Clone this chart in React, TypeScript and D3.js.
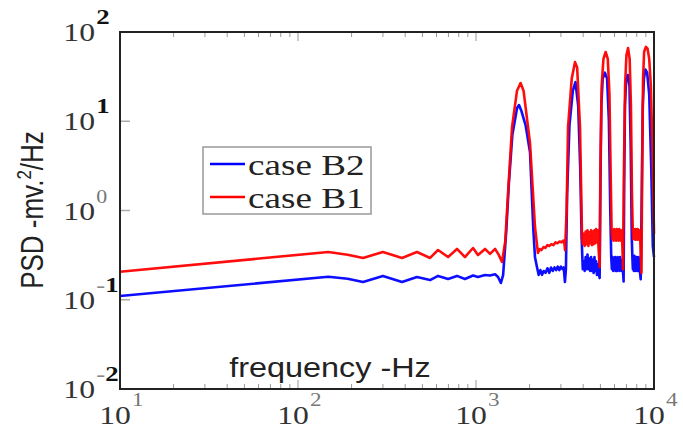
import React from 'react';
import * as d3 from 'd3';

const xTickExps = [1, 2, 3, 4];
const yTickExps = [2, 1, 0, -1, -2];
const seriesNames = ['case B2', 'case B1'];
const seriesColors = ['#0000ff', '#ff0000'];

// case B2 (blue)
const b2Freq = [10,148,190,232,300,384,466,552,612,697,782,867,962,1026,1124,1199,1280,1330,1380,1420,1480,1530,1600,1700,1744,1800,1900,2011,2100,2145,2200,
  2250,2300,2350,2400,2460,2520,2580,2640,2700,2760,2820,2880,2940,3000,3060,3110,3160,3200,3250,3350,3500,3620,3750,3850,3920,
  3980,4030,4080,4130,4180,4230,4280,4330,4380,4430,4480,4530,4580,4630,4680,4730,4780,4830,4880,4950,
  5000,5060,5150,5300,5450,5580,5680,5750,
  5800,5850,5900,5950,6000,6050,6100,6150,6200,6250,6300,6350,6400,6450,6500,6550,6600,6650,6750,
  6800,6870,6980,7120,7280,7400,7500,7560,
  7610,7660,7710,7760,7810,7860,7910,7960,8010,8060,8110,8160,8220,8280,8350,8420,
  8550,8650,8780,8950,9150,9400,9650,9850,10000];
const b2Psd = [0.11,0.181,0.172,0.158,0.185,0.158,0.18,0.166,0.185,0.171,0.185,0.171,0.187,0.18,0.189,0.187,0.193,0.18,0.154,0.189,0.6,2,7,14,15.2,13,9,4.5,0.6,0.3,0.233,
  0.19,0.215,0.19,0.21,0.2,0.225,0.2,0.23,0.21,0.23,0.215,0.235,0.215,0.235,0.22,0.23,0.158,0.22,1.5,9,22,27.5,15,3,0.5,
  0.22,0.27,0.21,0.3,0.22,0.32,0.22,0.29,0.21,0.3,0.21,0.28,0.2,0.3,0.21,0.27,0.19,0.25,0.2,0.175,
  2,15,30,35,30,10,1,0.3,
  0.22,0.3,0.21,0.28,0.22,0.3,0.21,0.29,0.21,0.3,0.22,0.28,0.21,0.3,0.22,0.28,0.21,0.25,0.16,
  2,15,30,33,25,5,0.5,0.3,
  0.22,0.3,0.21,0.31,0.22,0.3,0.21,0.3,0.22,0.29,0.21,0.3,0.22,0.28,0.2,0.17,
  2,15,30,38,35,20,3,0.4,0.3];

// case B1 (red)
const b1Freq = [10,148,190,232,300,384,466,552,612,697,782,867,962,1026,1124,1199,1280,1340,1400,1460,1514,1594,1700,1780,1850,2011,2145,2228,
  2280,2330,2400,2450,2520,2580,2650,2720,2800,2870,2950,3020,3100,3140,3164,3230,3289,3450,3600,3700,3840,3942,
  3980,4030,4080,4130,4180,4230,4280,4330,4380,4430,4480,4530,4580,4630,4680,4730,4780,4830,4880,4950,
  5000,5080,5200,5350,5500,5620,5720,5780,
  5830,5880,5930,5980,6030,6080,6130,6180,6230,6280,6330,6380,6430,6480,6530,6580,6640,6700,
  6780,6880,7000,7150,7300,7420,7520,7600,
  7650,7700,7750,7800,7850,7900,7950,8000,8050,8100,8150,8200,8260,8320,8400,8500,
  8580,8680,8800,9000,9200,9400,9600,9800,10000];
const b1Psd = [0.206,0.343,0.32,0.294,0.343,0.294,0.343,0.294,0.361,0.301,0.371,0.301,0.38,0.317,0.371,0.326,0.371,0.32,0.265,0.45,1.57,8.6,22,26.8,22,5.7,0.653,0.334,
  0.37,0.36,0.39,0.38,0.41,0.4,0.42,0.41,0.44,0.43,0.45,0.44,0.46,0.42,0.36,1.0,8.6,30,46,40,8.6,0.504,
  0.42,0.55,0.4,0.58,0.42,0.6,0.4,0.57,0.43,0.6,0.41,0.58,0.42,0.6,0.43,0.62,0.44,0.6,0.38,0.233,
  3,25,50,59.7,50,20,2,0.6,
  0.48,0.6,0.46,0.62,0.48,0.6,0.46,0.62,0.48,0.6,0.46,0.62,0.47,0.6,0.46,0.6,0.4,0.22,
  3,25,55,66,50,15,1.5,0.6,
  0.48,0.62,0.48,0.6,0.47,0.62,0.49,0.6,0.47,0.62,0.48,0.6,0.47,0.6,0.4,0.2,
  3,30,60,68,65,50,25,5,0.55];

export default function App() {
  const W = 683, H = 430;
  const L = 120, R = 654, T = 32, B = 389;
  const x = d3.scaleLog().domain([10, 10000]).range([L, R]);
  const y = d3.scaleLog().domain([0.01, 100]).range([B, T]);
  const mk = (fs: number[], ps: number[]) =>
    d3.line<number>().x((f) => x(f)).y((_, i) => y(ps[i]))(fs) || '';
  const series = [mk(b2Freq, b2Psd), mk(b1Freq, b1Psd)];
  const minor = x.ticks().filter((t) => Math.abs(Math.log10(t) - Math.round(Math.log10(t))) > 1e-6);
  const serif = "'Liberation Serif', 'Times New Roman', Times, serif";
  const sans = "'Liberation Sans', Arial, Helvetica, sans-serif";

  return (
    <svg width={W} height={H} style={{ position: 'absolute', left: 0, top: 0, background: '#fff' }}>
      <rect x={0} y={0} width={W} height={H} fill="#fff" />
      {minor.map((t, i) => (
        <g key={'m' + i} stroke="#999" strokeWidth={1}>
          <line x1={x(t)} x2={x(t)} y1={B} y2={B - 5} />
          <line x1={x(t)} x2={x(t)} y1={T} y2={T + 5} />
        </g>
      ))}
      {xTickExps.map((e) => (
        <g key={'xt' + e} stroke="#999" strokeWidth={1}>
          <line x1={x(10 ** e)} x2={x(10 ** e)} y1={B} y2={B - 9} />
          <line x1={x(10 ** e)} x2={x(10 ** e)} y1={T} y2={T + 9} />
        </g>
      ))}
      {yTickExps.map((e) => (
        <line key={'yt' + e} x1={L} x2={L + 10} y1={y(10 ** e)} y2={y(10 ** e)} stroke="#aaa" strokeWidth={1.5} />
      ))}
      {series.map((d, i) => (
        <path key={'s' + i} d={d} fill="none" stroke={seriesColors[i]} strokeWidth={2.6} strokeLinejoin="round" opacity={0.95} />
      ))}
      <rect x={L} y={T} width={R - L} height={B - T} fill="none" stroke="#222" strokeWidth={2} />
      {yTickExps.map((e) => (
        <g key={'yl' + e} transform={`translate(95,${y(10 ** e) + 9}) scale(1.22,1)`} fontFamily={serif}>
          <text textAnchor="end" fontSize={26} fill="#333">10</text>
          <text x={1} y={-17} fontSize={e === 0 ? 18 : 22} fontWeight={e === 0 ? 'normal' : 'bold'} fill={e === 0 ? '#777' : '#111'}>
            {e < 0 ? <tspan fill="#888" fontWeight="normal">-</tspan> : null}
            {Math.abs(e)}
          </text>
        </g>
      ))}
      {xTickExps.map((e) => (
        <g key={'xl' + e} transform={`translate(${x(10 ** e) - 5},424) scale(1.22,1)`} fontFamily={serif}>
          <text textAnchor="middle" fontSize={26} fill="#333">10</text>
          <text x={14} y={-18} fontSize={19} fill="#777">{e}</text>
        </g>
      ))}
      <g transform="translate(43,210) scale(1.2,1) rotate(-90)">
        <text textAnchor="middle" fontFamily={sans} fontSize={26} fill="#222">
          PSD -mv.<tspan dy={-10} fontSize={17}>2</tspan><tspan dy={10}>/Hz</tspan>
        </text>
      </g>
      <g transform="translate(330,377) scale(1.2,1)">
        <text textAnchor="middle" fontFamily={sans} fontSize={27} fill="#222">frequency -Hz</text>
      </g>
      <rect x={203} y={147} width={168} height={67} fill="#fff" stroke="#999" strokeWidth={1.5} />
      {seriesNames.map((n, i) => (
        <g key={'lg' + i}>
          <line x1={210} x2={245} y1={164 + i * 33} y2={164 + i * 33} stroke={seriesColors[i]} strokeWidth={2.5} />
          <g transform={`translate(248,${175 + i * 33}) scale(1.28,1)`}>
            <text fontFamily={serif} fontSize={29} fill="#222">{n}</text>
          </g>
        </g>
      ))}
    </svg>
  );
}
